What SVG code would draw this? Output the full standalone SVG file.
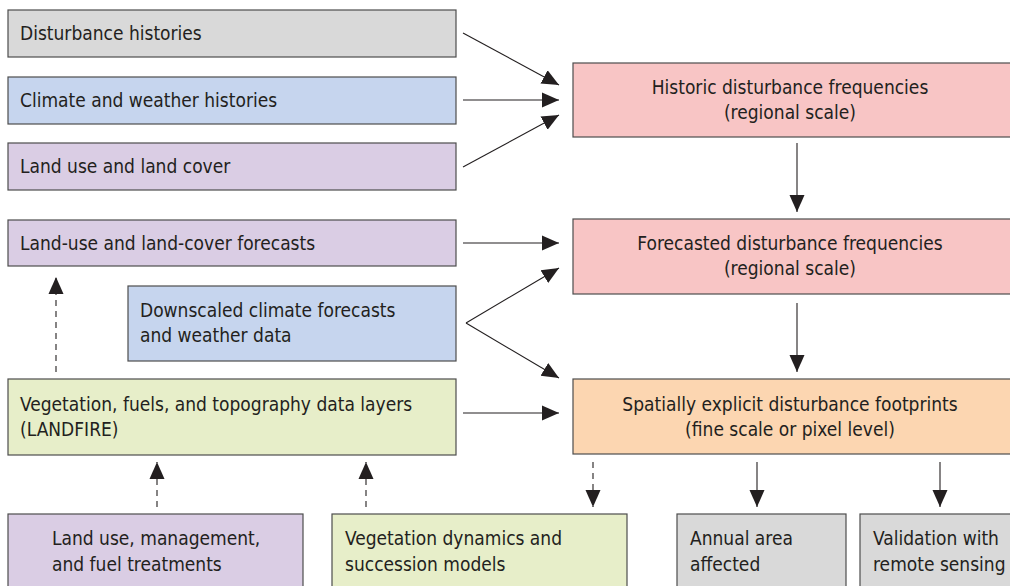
<svg xmlns="http://www.w3.org/2000/svg" width="1010" height="586" viewBox="0 0 1010 586">
<style>
.box{stroke:#4d4d4d;stroke-width:1.2}
.gray{fill:#d9d9d9}.blue{fill:#c6d5ee}.purple{fill:#dacde4}.pink{fill:#f8c5c5}.orange{fill:#fcd6b1}.green{fill:#e7eec9}
text{font-family:"Liberation Sans Narrow","DejaVu Sans Condensed","Liberation Sans",sans-serif;font-size:19px;fill:#231f20}
.c{text-anchor:middle}
.ln{stroke:#231f20;stroke-width:1.1;fill:none}
.d{stroke-dasharray:6,5}
</style>
<defs>
<marker id="ah" markerUnits="userSpaceOnUse" markerWidth="18" markerHeight="18" viewBox="0 0 18 18" refX="17" refY="9" orient="auto">
<path d="M0,1.5 L17,9 L0,16.5 Z" fill="#231f20"/>
</marker>
</defs>
<g id="connectors">
<line class="ln" x1="463" y1="33" x2="559" y2="85" marker-end="url(#ah)"/>
<line class="ln" x1="463" y1="100" x2="559" y2="100" marker-end="url(#ah)"/>
<line class="ln" x1="463" y1="167" x2="559" y2="115" marker-end="url(#ah)"/>
<line class="ln" x1="797" y1="143" x2="797" y2="212" marker-end="url(#ah)"/>
<line class="ln" x1="463" y1="243" x2="559" y2="243" marker-end="url(#ah)"/>
<line class="ln" x1="466" y1="323" x2="559" y2="268" marker-end="url(#ah)"/>
<line class="ln" x1="466" y1="323" x2="559" y2="378" marker-end="url(#ah)"/>
<line class="ln" x1="797" y1="303" x2="797" y2="372" marker-end="url(#ah)"/>
<line class="ln d" x1="56" y1="372" x2="56" y2="277" marker-end="url(#ah)"/>
<line class="ln" x1="463" y1="413" x2="559" y2="413" marker-end="url(#ah)"/>
<line class="ln d" x1="157" y1="507" x2="157" y2="462" marker-end="url(#ah)"/>
<line class="ln d" x1="366" y1="507" x2="366" y2="462" marker-end="url(#ah)"/>
<line class="ln d" x1="593" y1="462" x2="593" y2="507" marker-end="url(#ah)"/>
<line class="ln" x1="757" y1="462" x2="757" y2="507" marker-end="url(#ah)"/>
<line class="ln" x1="940" y1="462" x2="940" y2="507" marker-end="url(#ah)"/>
</g>
<g id="n-dist-hist">
<rect class="box gray" x="8" y="10" width="448" height="47"/>
<text x="20" y="40">Disturbance histories</text>
</g>
<g id="n-climate-hist">
<rect class="box blue" x="8" y="77" width="448" height="47"/>
<text x="20" y="107">Climate and weather histories</text>
</g>
<g id="n-landuse">
<rect class="box purple" x="8" y="143" width="448" height="47"/>
<text x="20" y="173">Land use and land cover</text>
</g>
<g id="n-historic">
<rect class="box pink" x="573" y="63" width="445" height="74"/>
<text class="c" x="790" y="94">Historic disturbance frequencies</text>
<text class="c" x="790" y="119">(regional scale)</text>
</g>
<g id="n-lu-forecast">
<rect class="box purple" x="8" y="220" width="448" height="46"/>
<text x="20" y="250">Land-use and land-cover forecasts</text>
</g>
<g id="n-forecasted">
<rect class="box pink" x="573" y="219" width="445" height="75"/>
<text class="c" x="790" y="250">Forecasted disturbance frequencies</text>
<text class="c" x="790" y="275">(regional scale)</text>
</g>
<g id="n-downscaled">
<rect class="box blue" x="128" y="286" width="328" height="75"/>
<text x="140" y="317">Downscaled climate forecasts</text>
<text x="140" y="342">and weather data</text>
</g>
<g id="n-vegetation">
<rect class="box green" x="8" y="379" width="448" height="76"/>
<text x="20" y="411">Vegetation, fuels, and topography data layers</text>
<text x="20" y="436">(LANDFIRE)</text>
</g>
<g id="n-spatial">
<rect class="box orange" x="573" y="379" width="445" height="75"/>
<text class="c" x="790" y="411">Spatially explicit disturbance footprints</text>
<text class="c" x="790" y="436">(fine scale or pixel level)</text>
</g>
<g id="n-landuse-mgmt">
<rect class="box purple" x="8" y="514" width="295" height="80"/>
<text x="52" y="545">Land use, management,</text>
<text x="52" y="571">and fuel treatments</text>
</g>
<g id="n-veg-dynamics">
<rect class="box green" x="332" y="514" width="295" height="80"/>
<text x="345" y="545">Vegetation dynamics and</text>
<text x="345" y="571">succession models</text>
</g>
<g id="n-annual">
<rect class="box gray" x="677" y="514" width="169" height="80"/>
<text x="690" y="545">Annual area</text>
<text x="690" y="571">affected</text>
</g>
<g id="n-validation">
<rect class="box gray" x="860" y="514" width="160" height="80"/>
<text x="873" y="545">Validation with</text>
<text x="873" y="571">remote sensing</text>
</g>
</svg>
